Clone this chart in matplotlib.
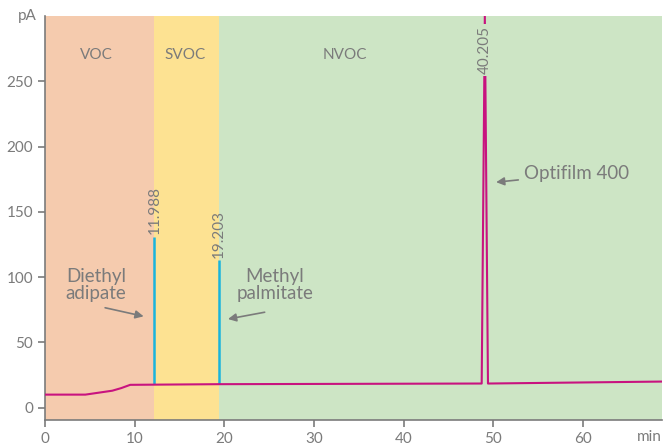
import numpy as np
import matplotlib
matplotlib.use("Agg")
import matplotlib.pyplot as plt

# region bands (min)
regions = ["VOC", "SVOC", "NVOC"]
region_edges = [0, 12.2, 19.4, 68.8]
region_colors = ["#f5cbae", "#fde292", "#cde5c5"]
region_label_x = [5.7, 15.6, 33.4]

# FID trace (magenta)
trace_t = [0, 4.5, 6.0, 7.5, 8.5, 9.5, 19.4, 48.7, 49.05, 49.4, 68.8]
trace_y = [10, 10, 11.5, 13, 15, 17.5, 18, 18.5, 300, 18.5, 20]

# cyan peaks
peak_t = [12.2, 19.4]
peak_h = [131, 113]
peak_base = [17.8, 18]
peak_lbl = ["11.988", "19.203"]

MAG, CYAN, GRAY = "#c8137f", "#1ab4dc", "#7b7b7b"

plt.rcParams["font.family"] = ["Lato", "DejaVu Sans"]

fig = plt.figure(figsize=(6.72, 4.45), dpi=100)
ax = fig.add_axes([0.067, 0.056, 0.918, 0.908])

for i, name in enumerate(regions):
    ax.axvspan(region_edges[i], region_edges[i + 1], color=region_colors[i], lw=0, zorder=0)
    ax.text(region_label_x[i], 270, name, ha="center", va="center", color=GRAY, fontsize=11)

ax.plot(trace_t, trace_y, color=MAG, lw=1.5, zorder=3)
ax.vlines(peak_t, peak_base, peak_h, color=CYAN, lw=1.8, zorder=2)
for t, h, s in zip(peak_t, peak_h, peak_lbl):
    ax.text(t, h + 2, s, rotation=90, ha="center", va="bottom", color=GRAY, fontsize=11)

ax.text(49.05, 274, "40.205", rotation=90, ha="center", va="center", color=GRAY,
        fontsize=11, zorder=4,
        bbox=dict(boxstyle="square,pad=0.15", fc=region_colors[2], ec="none"))

# annotations
arrow = dict(arrowstyle="-|>", color=GRAY, lw=1.2, mutation_scale=12)
ax.text(5.7, 94, "Diethyl\nadipate", ha="center", va="center",
        color=GRAY, fontsize=13.5, linespacing=1.05)
ax.annotate("", xy=(11.3, 69.5), xytext=(6.4, 77), arrowprops=arrow)
ax.text(25.6, 94, "Methyl\npalmitate", ha="center", va="center",
        color=GRAY, fontsize=13.5, linespacing=1.05)
ax.annotate("", xy=(20.1, 67.5), xytext=(24.8, 73.5), arrowprops=arrow)
ax.annotate("Optifilm 400", xy=(50.0, 172.5), xytext=(53.4, 179), ha="left", va="center",
            color=GRAY, fontsize=13.5, arrowprops=arrow)

ax.set_xlim(0, 68.8)
ax.set_ylim(-9.5, 300)
ax.set_xticks([0, 10, 20, 30, 40, 50, 60])
ax.set_yticks([0, 50, 100, 150, 200, 250])
for side in ["top", "right"]:
    ax.spines[side].set_visible(False)
for side in ["left", "bottom"]:
    ax.spines[side].set_color(GRAY)
    ax.spines[side].set_linewidth(1.2)
ax.tick_params(colors=GRAY, labelsize=11, length=5, width=1.2)
ax.text(-0.9, 300, "pA", ha="right", va="center", color=GRAY, fontsize=11)
ax.text(1.0, -0.043, "min", transform=ax.transAxes, ha="right", va="center",
        color=GRAY, fontsize=11)

fig.savefig("out.png", dpi=100)
